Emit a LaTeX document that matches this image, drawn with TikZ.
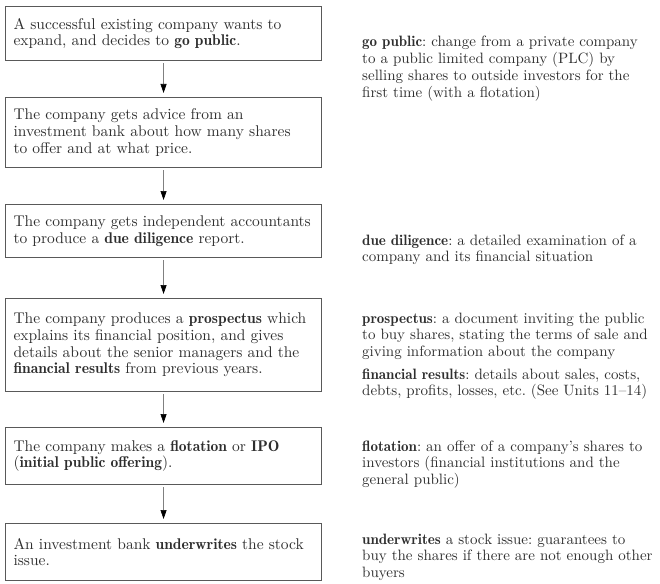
\documentclass[tikz,border=0pt]{standalone}
\usepackage{fontspec}
\setmainfont{lmroman10-regular.otf}[BoldFont=lmromandemi10-regular.otf]
\usetikzlibrary{arrows.meta}
\frenchspacing

\definecolor{inkgrey}{gray}{0.18}
\definecolor{framegrey}{gray}{0.35}
\definecolor{shaftgrey}{gray}{0.5}

\tikzset{
  basetext/.style={align=left, text=inkgrey},
  stepbox/.style={basetext, font=\fontsize{15.5}{16.7}\selectfont,
    draw=framegrey, line width=1.1pt, rectangle,
    anchor=north west, minimum width=316pt, text width=300pt,
    inner xsep=8pt, inner ysep=0pt},
  gloss/.style={basetext, font=\fontsize{15}{16.7}\selectfont,
    anchor=base west, text width=310pt, inner sep=0pt},
  flow/.style={draw=shaftgrey, line width=0.7pt,
    -{Triangle[length=9pt,width=6pt,black]}, shorten <=2pt, shorten >=4pt}
}

\begin{document}
\begin{tikzpicture}[x=1pt, y=-1pt]
  \useasboundingbox (0,0) rectangle (660,583);

  % process steps
  \node[stepbox, minimum height=54pt] (s1) at (5,6)
    {A successful existing company wants to\\
     expand, and decides to \textbf{go public}.};
  \node[stepbox, minimum height=70pt] (s2) at (5,97)
    {The company gets advice from an\\
     investment bank about how many shares\\
     to offer and at what price.};
  \node[stepbox, minimum height=53pt] (s3) at (5,204)
    {The company gets independent accountants\\
     to produce a \textbf{due diligence} report.};
  \node[stepbox, minimum height=93pt] (s4) at (5,298)
    {The company produces a \textbf{prospectus} which\\
     explains its financial position, and gives\\
     details about the senior managers and the\\
     \textbf{financial results} from previous years.};
  \node[stepbox, minimum height=57pt] (s5) at (5,427)
    {The company makes a \textbf{flotation} or \textbf{IPO}\\
     (\textbf{initial public offering}).};
  \node[stepbox, minimum height=57pt] (s6) at (5,523)
    {An investment bank \textbf{underwrites} the stock\\
     issue.};

  % connectors
  \draw[flow] (s1.south) -- (s2.north);
  \draw[flow] (s2.south) -- (s3.north);
  \draw[flow] (s3.south) -- (s4.north);
  \draw[flow] (s4.south) -- (s5.north);
  \draw[flow] (s5.south) -- (s6.north);

  % glossary
  \node[gloss] (g1) at (362,47)
    {\textbf{go public}: change from a private company\\
     to a public limited company (PLC) by\\
     selling shares to outside investors for the\\
     first time (with a flotation)};
  \node[gloss] (g2) at (362,245)
    {\textbf{due diligence}: a detailed examination of a\\
     company and its financial situation};
  \node[gloss] (g3) at (362,323)
    {\textbf{prospectus}: a document inviting the public\\
     to buy shares, stating the terms of sale and\\
     giving information about the company};
  \node[gloss] (g4) at (362,379)
    {\textbf{financial results}: details about sales, costs,\\
     debts, profits, losses, etc. (See Units 11--14)};
  \node[gloss] (g5) at (362,451)
    {\textbf{flotation}: an offer of a company's shares to\\
     investors (financial institutions and the\\
     general public)};
  \node[gloss] (g6) at (362,544)
    {\textbf{underwrites} a stock issue: guarantees to\\
     buy the shares if there are not enough other\\
     buyers};
\end{tikzpicture}
\end{document}
